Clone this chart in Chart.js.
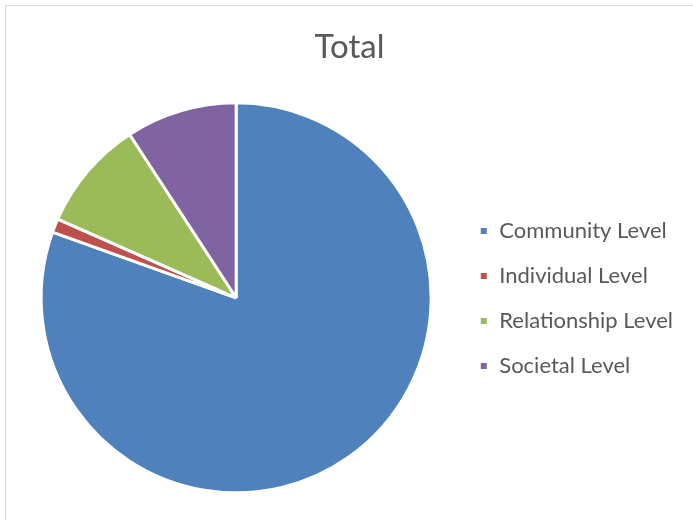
<!DOCTYPE html>
<html>
<head>
<meta charset="utf-8">
<script src="https://cdn.jsdelivr.net/npm/chart.js@4.4.1/dist/chart.umd.min.js"></script>
<style>
	html, body { margin: 0; padding: 0; background: #fff; }
	#wrap { position: relative; width: 693px; height: 520px; }
	#frame {
		position: absolute; left: 5px; top: 5px; right: -2px; bottom: -2px;
		border-left: 1.5px solid #d9d9d9; border-top: 1.5px solid #d9d9d9;
		pointer-events: none;
	}
</style>
</head>
<body>
<div id="wrap">
	<canvas id="pie" width="693" height="520"></canvas>
	<div id="frame"></div>
</div>
<script>
// 데이터
var categories = ['Community Level', 'Individual Level', 'Relationship Level', 'Societal Level'];
var counts = [70, 1, 8, 8];
var sliceColors = ['#4F81BD', '#C0504D', '#9BBB59', '#8064A2'];
var chartTitle = 'Total';

var textColor = '#595959';
var fontFamily = "Lato, 'Open Sans', sans-serif";

var ctx = document.getElementById('pie').getContext('2d');

var myChart = new Chart(ctx, {
	type: 'pie',
	data: {
		labels: categories,
		datasets: [{
			data: counts,
			backgroundColor: sliceColors,
			borderColor: '#ffffff',
			borderWidth: 3,
			radius: 195,
			hoverOffset: 0
		}]
	},
	options: {
		animation: false,
		responsive: false,
		maintainAspectRatio: false,
		layout: {
			padding: { left: 16, right: 10, top: 0, bottom: 0 }
		},
		plugins: {
			title: {
				display: true,
				text: chartTitle,
				color: textColor,
				font: { size: 33, weight: 'normal', family: fontFamily },
				padding: { top: 28, bottom: 8 }
			},
			legend: {
				display: true,
				position: 'right',
				align: 'center',
				// 빈 제목으로 범례 항목을 아래로 밀기
				title: {
					display: true,
					text: ' ',
					font: { size: 10 },
					padding: { top: 65, bottom: 0 }
				},
				labels: {
					boxWidth: 9,
					boxHeight: 9,
					padding: 23,
					color: textColor,
					font: { size: 22, family: fontFamily }
				}
			},
			tooltip: { enabled: false }
		}
	}
});
</script>
</body>
</html>
